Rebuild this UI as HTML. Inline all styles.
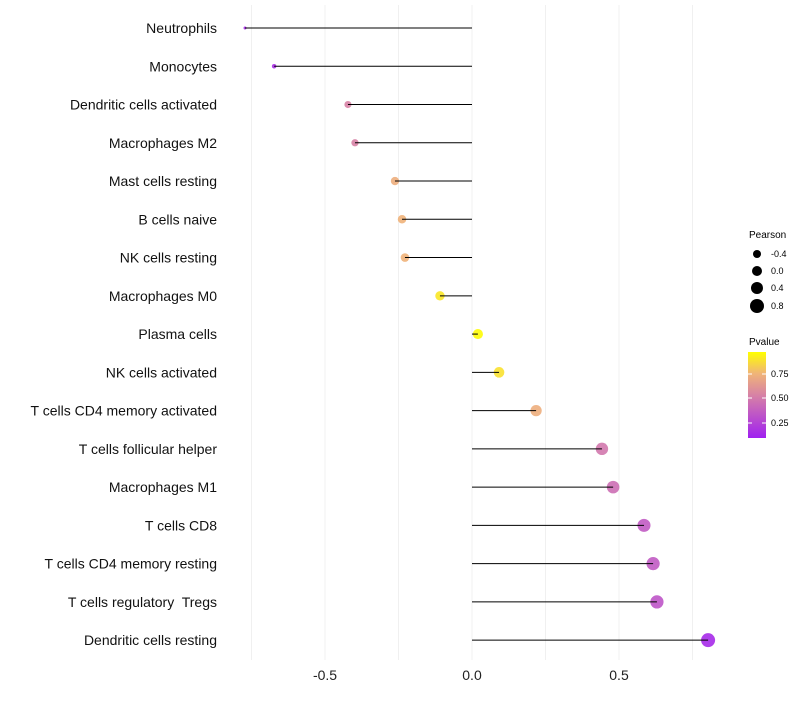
<!DOCTYPE html>
<html><head><meta charset="utf-8"><style>
body{margin:0;background:#fff;font-family:"Liberation Sans",sans-serif}
text{white-space:pre}
</style></head><body>
<svg id="c" width="800" height="700" xmlns="http://www.w3.org/2000/svg">
<defs><linearGradient id="pg" x1="0" y1="1" x2="0" y2="0">
<stop offset="0" stop-color="#a020f0"/><stop offset="0.5" stop-color="#d782a5"/><stop offset="0.75" stop-color="#f0b478"/><stop offset="1" stop-color="#ffff00"/></linearGradient></defs>
<g id="grid"></g><g id="marks"></g><g id="labels"></g>
<g font-size="9" fill="#000">
<text x="749" y="238" font-size="10">Pearson</text>
<circle cx="757" cy="254" r="4"/><text x="771" y="257">-0.4</text>
<circle cx="757" cy="271" r="5"/><text x="771" y="274">0.0</text>
<circle cx="757" cy="288" r="6"/><text x="771" y="291">0.4</text>
<circle cx="757" cy="306" r="7"/><text x="771" y="309">0.8</text>
</g>
<g font-size="9" fill="#000">
<text x="749" y="345" font-size="10">Pvalue</text>
<rect x="748" y="352" width="18" height="86" fill="url(#pg)"/>
<line x1="748" x2="752" y1="374" y2="374" stroke="#fff"/><line x1="762" x2="766" y1="374" y2="374" stroke="#fff"/>
<line x1="748" x2="752" y1="398" y2="398" stroke="#fff"/><line x1="762" x2="766" y1="398" y2="398" stroke="#fff"/>
<line x1="748" x2="752" y1="423" y2="423" stroke="#fff"/><line x1="762" x2="766" y1="423" y2="423" stroke="#fff"/>
<text x="771" y="377">0.75</text><text x="771" y="401">0.50</text><text x="771" y="426">0.25</text>
</g>
</svg>
<script>
const cells=["Neutrophils","Monocytes","Dendritic cells activated","Macrophages M2","Mast cells resting","B cells naive","NK cells resting","Macrophages M0","Plasma cells","NK cells activated","T cells CD4 memory activated","T cells follicular helper","Macrophages M1","T cells CD8","T cells CD4 memory resting","T cells regulatory  Tregs","Dendritic cells resting"];
const pearson=[-0.772,-0.673,-0.422,-0.398,-0.262,-0.238,-0.228,-0.109,0.02,0.092,0.218,0.442,0.48,0.585,0.616,0.629,0.803];
const pvalue=[0.05,0.08,0.5,0.5,0.72,0.74,0.74,0.92,0.99,0.9,0.72,0.45,0.4,0.3,0.3,0.27,0.05];
const ticks=[-0.5,0,0.5];
const grids=[-0.75,-0.5,-0.25,0,0.25,0.5,0.75];
const NS="http://www.w3.org/2000/svg";
const X=v=>472+v*294;
const Y=i=>28+i*38.26;
const R=v=>Math.sqrt(Math.max(2.25,25.2+29.8*v));
const stops=[[0,[160,32,240]],[0.5,[215,130,165]],[0.75,[240,180,120]],[1,[255,255,0]]];
function col(p){for(let k=1;k<stops.length;k++){if(p<=stops[k][0]){const a=stops[k-1],b=stops[k],t=(p-a[0])/(b[0]-a[0]);return "rgb("+a[1].map((c,j)=>Math.round(c+(b[1][j]-c)*t)).join(",")+")";}}return "rgb(255,255,0)";}
function mk(t,a,p){const e=document.createElementNS(NS,t);for(const k in a)e.setAttribute(k,a[k]);p.appendChild(e);return e;}
const g=document.getElementById("grid"),m=document.getElementById("marks"),l=document.getElementById("labels");
grids.forEach(v=>{const e=mk("line",{x1:X(v),x2:X(v),y1:5,y2:660,stroke:"#f0f0f0","stroke-width":1},g);

});
ticks.forEach(v=>{const e=mk("text",{x:X(v),y:680,"text-anchor":"middle","font-size":14,fill:"#222"},l);e.textContent=v===0?"0.0":v.toFixed(1);

});
cells.forEach((c,i)=>{
const t=mk("text",{x:217,y:Y(i)+5,"text-anchor":"end","font-size":14,fill:"#111"},l);t.textContent=c;


const d=mk("circle",{cx:X(pearson[i]),cy:Y(i),r:R(pearson[i]),fill:col(pvalue[i]),"fill-opacity":0.9},m);


const ln=mk("line",{x1:X(0),x2:X(pearson[i]),y1:Y(i),y2:Y(i),stroke:"#000","stroke-width":1},m);


});
</script>
</body></html>
